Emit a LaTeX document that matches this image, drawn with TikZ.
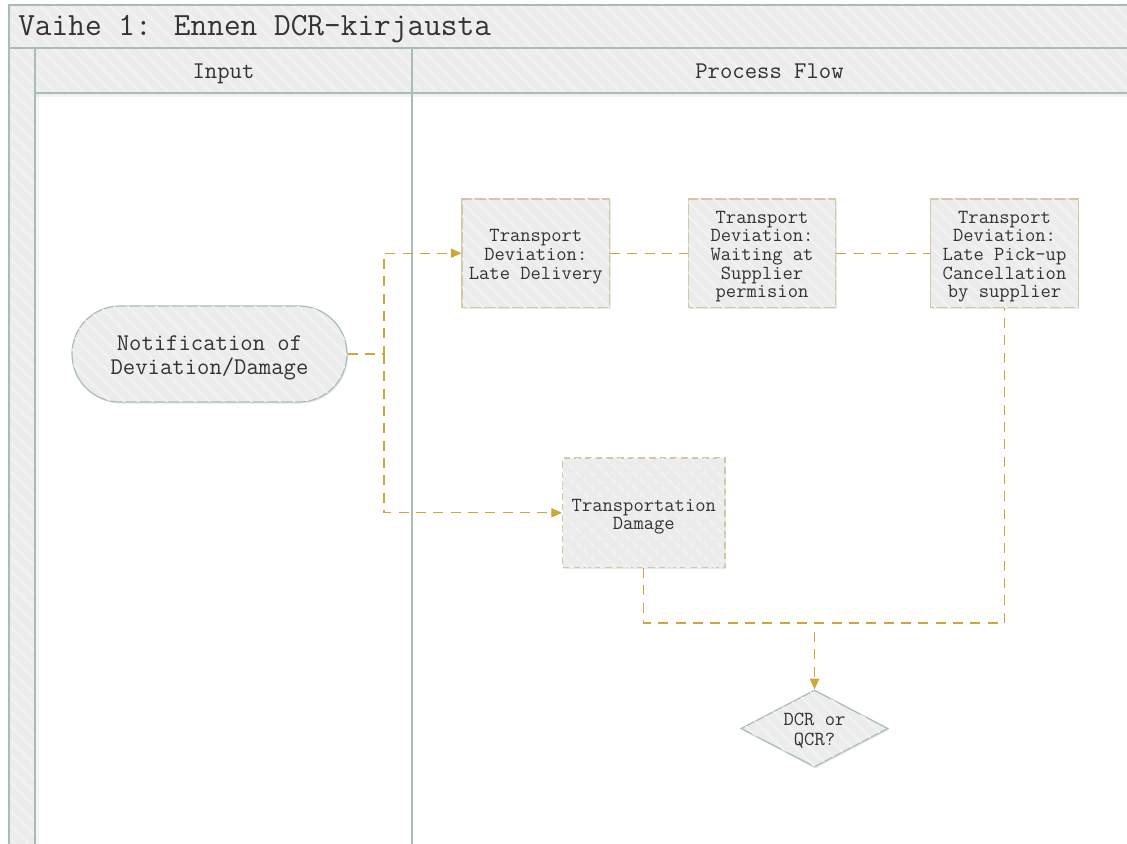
\documentclass[tikz,border=0pt]{standalone}
\usepackage{fontspec}
\usetikzlibrary{shapes.geometric,arrows.meta,patterns.meta,shadows}
\definecolor{lanec}{HTML}{A7BDB6}
\definecolor{boxb}{HTML}{D3C8A5}
\definecolor{gold}{HTML}{CCA83C}
\definecolor{fillg}{HTML}{ECECEC}
\definecolor{stripe}{HTML}{F3F3F3}
\definecolor{txt}{HTML}{333333}
\newcommand\dn[2][2.6pt]{\raisebox{-#1}[\height][\depth]{\begin{tabular}{@{}c@{}}#2\end{tabular}}}
\begin{document}
\begin{tikzpicture}[x=0.75pt,y=-0.75pt,
  hatch/.style={fill=fillg, postaction={pattern={Lines[angle=-45,distance=7.5pt,line width=1.2pt]}, pattern color=stripe}},
  lane/.style={draw=lanec, line width=1.1pt},
  shade/.style={drop shadow={shadow xshift=0.8pt,shadow yshift=-1.2pt,opacity=0.18}},
  procbox/.style={draw=boxb, line width=0.9pt, shade, hatch, minimum width=110.6pt, minimum height=81.4pt,
    font=\ttfamily\fontsize{15}{14}\selectfont, text=txt, inner sep=0pt},
  notebox/.style={draw=lanec, line width=0.9pt, shade, hatch, rounded corners=36pt, minimum width=206.25pt,
    minimum height=72pt, font=\ttfamily\fontsize{18}{17.25}\selectfont, text=txt, inner sep=0pt},
  decbox/.style={diamond, aspect=1.9, draw=lanec, line width=0.9pt, shade, hatch, minimum width=110.25pt, minimum height=57.75pt,
    font=\ttfamily\fontsize{15}{15}\selectfont, text=txt, inner sep=0pt},
  headtext/.style={font=\ttfamily\fontsize{18}{20}\selectfont, text=txt, inner sep=0pt, anchor=base},
  flow/.style={draw=gold, line width=0.9pt, dash pattern=on 7.5pt off 5.5pt},
  tip/.style={-{Triangle[length=8pt,width=7pt]}},
]
\useasboundingbox (0,0) rectangle (1127,843);
\clip (0,0) rectangle (1127,843);
\fill[white] (0,0) rectangle (1127,843);
% pool and lanes
\path[hatch] (9,5) rectangle (1140,48);
\path[hatch] (35,48) rectangle (1140,93);
\path[hatch] (9,48) rectangle (35,860);
\fill[black,opacity=0.05] (35,93) rectangle (1140,97);
\fill[black,opacity=0.04] (35,93) rectangle (39,860);
\draw[lane] (9,860) -- (9,5) -- (1140,5);
\draw[lane] (9,48) -- (1140,48);
\draw[lane] (35,93) -- (1140,93);
\draw[lane] (35,48) -- (35,860);
\draw[lane] (412,48) -- (412,860);
\node[anchor=base west, font=\ttfamily\fontsize{24.3}{26}\selectfont, text=txt, inner sep=0pt] (title) at (18,35) {Vaihe 1: Ennen DCR-kirjausta};
\node[headtext] (hin) at (223.5,78) {Input};
\node[headtext] (hpf) at (769.5,78) {Process Flow};
% nodes
\node[notebox] (note) at (209.5,354) {\dn[3pt]{Notification of\\Deviation/Damage}};
\node[procbox] (late) at (535.8,253.2) {\dn{Transport\\Deviation:\\Late Delivery}};
\node[procbox] (wait) at (762,253.2) {\dn{Transport\\Deviation:\\Waiting at\\Supplier\\permision}};
\node[procbox] (canc) at (1004.5,253.2) {\dn{Transport\\Deviation:\\Late Pick-up\\Cancellation\\by supplier}};
\node[procbox, dashed, dash pattern=on 5pt off 3pt, minimum width=121.9pt, minimum height=82.1pt] (dmg) at (643.8,512.8) {\dn[3pt]{Transportation\\Damage}};
\node[decbox] (dia) at (814.5,728.5) {\dn[2.5pt]{DCR or\\QCR?}};
% connectors
\coordinate (split) at (384,354);
\coordinate (join) at (814.5,623);
\coordinate (joinb) at (814.5,632);
\draw[flow,tip] (note.east) -- (split) |- (late.west);
\draw[flow,tip] (split) |- (dmg.west);
\draw[flow] (late.east) -- (wait.west);
\draw[flow] (wait.east) -- (canc.west);
\draw[flow] (dmg.south) |- (join) -| (canc.south);
\draw[flow,tip] (joinb) -- (dia.north);
\end{tikzpicture}
\end{document}
